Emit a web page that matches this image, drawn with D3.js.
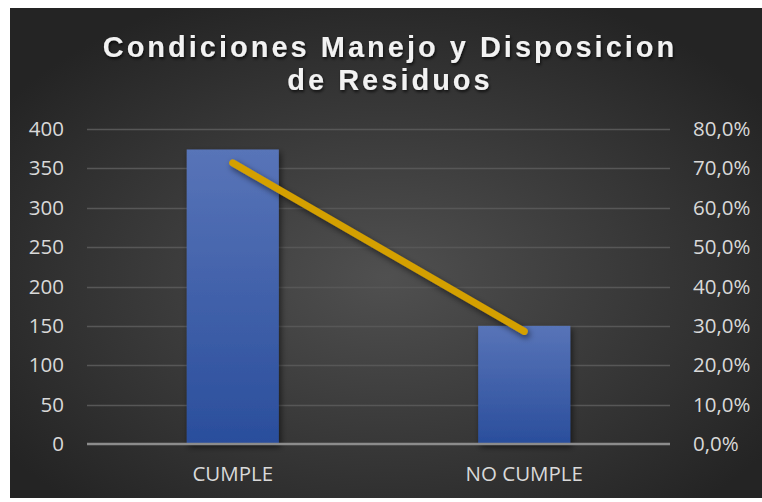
<!DOCTYPE html>
<html>
<head>
<meta charset="utf-8">
<script src="https://cdn.jsdelivr.net/npm/d3@7"></script>
<style>
  html, body { margin: 0; padding: 0; background: #ffffff; }
  svg { display: block; }
</style>
</head>
<body>
<div id="chart"></div>
<script>
// chart data
var categories = ["CUMPLE", "NO CUMPLE"];
var counts = [374, 150];
var percents = [0.714, 0.286];
var leftTicks = [0, 50, 100, 150, 200, 250, 300, 350, 400];
var rightTicks = [0, 0.1, 0.2, 0.3, 0.4, 0.5, 0.6, 0.7, 0.8];
var titleLines = ["Condiciones Manejo y Disposicion", "de Residuos"];

var width = 762, height = 502;
var margin = {top: 129, right: 92, bottom: 58, left: 87};

var svg = d3.select("#chart").append("svg")
  .attr("width", width)
  .attr("height", height);

var defs = svg.append("defs");

var bg = defs.append("radialGradient").attr("id", "bg")
  .attr("cx", "50%").attr("cy", "55%").attr("r", "62%");
bg.append("stop").attr("offset", "0%").attr("stop-color", "#505050");
bg.append("stop").attr("offset", "100%").attr("stop-color", "#242424");

var barGrad = defs.append("linearGradient").attr("id", "barGrad")
  .attr("x1", 0).attr("y1", 0).attr("x2", 0).attr("y2", 1);
barGrad.append("stop").attr("offset", "0%").attr("stop-color", "#5874b8");
barGrad.append("stop").attr("offset", "100%").attr("stop-color", "#2a4e9c");

var shadow = defs.append("filter").attr("id", "shadow")
  .attr("x", "-20%").attr("y", "-20%").attr("width", "150%").attr("height", "150%");
shadow.append("feDropShadow").attr("dx", 2).attr("dy", 3).attr("stdDeviation", 3)
  .attr("flood-color", "#000").attr("flood-opacity", 0.55);

var textShadow = defs.append("filter").attr("id", "tshadow");
textShadow.append("feDropShadow").attr("dx", 1).attr("dy", 2).attr("stdDeviation", 1.5)
  .attr("flood-color", "#000").attr("flood-opacity", 0.7);

// background panel
svg.append("rect")
  .attr("x", 10).attr("y", 8)
  .attr("width", width - 10).attr("height", 490)
  .attr("fill", "url(#bg)");

// title
svg.append("text")
  .attr("x", 390).attr("y", 57)
  .attr("text-anchor", "middle")
  .attr("fill", "#f2f2f2")
  .attr("filter", "url(#tshadow)")
  .style("font-family", "'Liberation Sans', Arial, sans-serif")
  .style("font-weight", "bold")
  .style("font-size", "29px")
  .style("letter-spacing", "3px")
  .selectAll("tspan")
  .data(titleLines)
  .enter().append("tspan")
  .attr("x", 390)
  .attr("dy", function(d, i) { return i === 0 ? 0 : 33; })
  .text(function(d) { return d; });

var x = d3.scaleBand()
  .domain(categories)
  .range([margin.left, width - margin.right])
  .padding(0);

var y = d3.scaleLinear()
  .domain([0, 400])
  .range([height - margin.bottom, margin.top]);

var y2 = d3.scaleLinear()
  .domain([0, 0.8])
  .range([height - margin.bottom, margin.top]);

// gridlines
svg.append("g")
  .selectAll("line")
  .data(leftTicks.slice(1))
  .enter().append("line")
  .attr("x1", margin.left).attr("x2", width - margin.right)
  .attr("y1", function(d) { return Math.round(y(d)) + 0.5; })
  .attr("y2", function(d) { return Math.round(y(d)) + 0.5; })
  .attr("stroke", "#575757")
  .attr("stroke-width", 1.5);

// bars
var barW = x.bandwidth() * 0.316;
svg.append("g")
  .selectAll("rect")
  .data(categories)
  .enter().append("rect")
  .attr("x", function(d) { return x(d) + x.bandwidth() / 2 - barW / 2; })
  .attr("y", function(d, i) { return y(counts[i]); })
  .attr("width", barW)
  .attr("height", function(d, i) { return y(0) - y(counts[i]); })
  .attr("fill", "url(#barGrad)")
  .attr("filter", "url(#shadow)");

// baseline
svg.append("line")
  .attr("x1", margin.left).attr("x2", width - margin.right)
  .attr("y1", y(0)).attr("y2", y(0))
  .attr("stroke", "#8c8c8c")
  .attr("stroke-width", 2.5);

// percentage line
var line = d3.line()
  .x(function(d, i) { return x(categories[i]) + x.bandwidth() / 2; })
  .y(function(d) { return y2(d); });

svg.append("path")
  .datum(percents)
  .attr("d", line)
  .attr("fill", "none")
  .attr("stroke", "#d4a000")
  .attr("stroke-width", 7)
  .attr("stroke-linecap", "round")
  .attr("filter", "url(#shadow)");

// axes
var axisFont = "'Open Sans', 'DejaVu Sans', sans-serif";
var axisSize = "20.5px";

var leftAxis = svg.append("g")
  .attr("transform", "translate(" + 64 + ",0)")
  .call(d3.axisLeft(y).tickValues(leftTicks).tickSize(0).tickPadding(0));
leftAxis.select(".domain").remove();
leftAxis.selectAll("text")
  .attr("fill", "#d9d9d9")
  .style("font-family", axisFont)
  .style("font-size", axisSize);

var fmtPct = function(d) { return d3.format(".1f")(d * 100).replace(".", ",") + "%"; };
var rightAxis = svg.append("g")
  .attr("transform", "translate(" + 693 + ",0)")
  .call(d3.axisRight(y2).tickValues(rightTicks).tickFormat(fmtPct).tickSize(0).tickPadding(0));
rightAxis.select(".domain").remove();
rightAxis.selectAll("text")
  .attr("fill", "#d9d9d9")
  .style("font-family", axisFont)
  .style("font-size", axisSize);

var bottomAxis = svg.append("g")
  .attr("transform", "translate(0," + (height - margin.bottom) + ")")
  .call(d3.axisBottom(x).tickSize(0).tickPadding(22));
bottomAxis.select(".domain").remove();
bottomAxis.selectAll("text")
  .attr("fill", "#d9d9d9")
  .style("font-family", axisFont)
  .style("font-size", axisSize);
</script>
</body>
</html>
